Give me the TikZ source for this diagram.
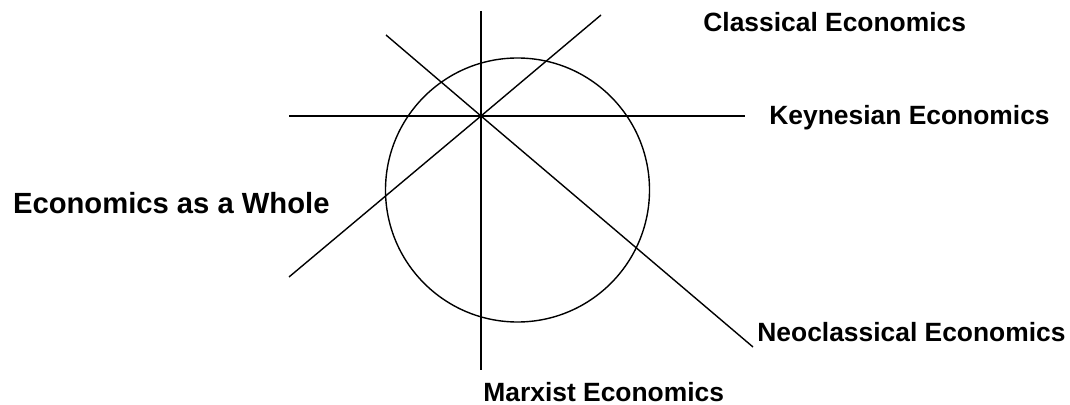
\documentclass[tikz,border=0pt]{standalone}
\usepackage{fontspec}
\setmainfont{Liberation Sans}
\usepackage{tikz}
\usetikzlibrary{positioning, calc}

\tikzset{
  spoke/.style={draw=black, line width=0.7pt},
  school/.style={anchor=base west, inner sep=0pt, font=\fontsize{13.2}{16}\selectfont\bfseries}
}

\begin{document}
\begin{tikzpicture}[x=0.5pt, y=-0.5pt]
  \useasboundingbox (0,0) rectangle (1070,405);
  % hub of the spokes and the whole
  \coordinate (hub) at (481,116);
  \coordinate (mid) at (517.5,190);
  \coordinate (northEnd) at (481,11);
  \coordinate (southEnd) at (481,370);
  \coordinate (westEnd) at (289,116);
  \coordinate (eastEnd) at (745,116);
  \coordinate (nwEnd) at (386,35);
  \coordinate (seEnd) at (753,347);
  \coordinate (neEnd) at (601,15);
  \coordinate (swEnd) at (289,277);

  \draw[line width=0.7pt] (mid) circle[radius=66pt];

  \draw[spoke, line width=0.85pt] (northEnd) -- (hub) -- (southEnd);
  \draw[spoke] (westEnd) -- (hub) -- (eastEnd);
  \draw[spoke] (nwEnd) -- (hub) -- (seEnd);
  \draw[spoke] (swEnd) -- (hub) -- (neEnd);

  % the schools
  \node[school] (classical) at (703,31.7) {Classical Economics};
  \node[school] (keynesian) at (769,125) {Keynesian Economics};
  \node[school, font=\fontsize{14.6}{17}\selectfont\bfseries] (whole) at (12.7,213.3) {Economics as a Whole};
  \node[school] (neoclassical) at (757,341.7) {Neoclassical Economics};
  \node[school] (marxist) at (483,401.7) {Marxist Economics};
\end{tikzpicture}
\end{document}
